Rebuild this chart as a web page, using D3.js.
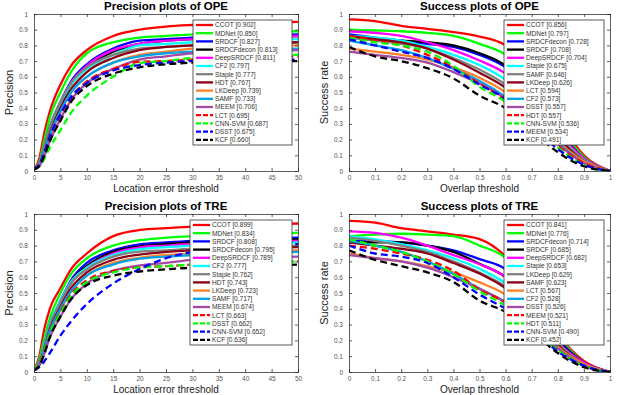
<!DOCTYPE html>
<html>
<head>
<meta charset="utf-8">
<script src="https://cdn.jsdelivr.net/npm/d3@7"></script>
<style>
  body { margin: 0; background: #fff; }
  svg { display: block; font-family: "Liberation Sans", Arial, sans-serif; }
  .tick text { fill: #555; font-size: 6.5px; }
  .domain, .tick line { stroke: #333; stroke-width: 0.8; }
</style>
</head>
<body>
<svg id="chart" width="621" height="395"></svg>
<script>
// thresholds
const precX = [0, 1, 2, 3, 5, 7, 10, 15, 20, 25, 30, 40, 50];
const succX = [0, 0.1, 0.2, 0.3, 0.4, 0.5, 0.6, 0.7, 0.8, 0.9, 1];
const precTicks = [0, 5, 10, 15, 20, 25, 30, 35, 40, 45, 50];
const succTicks = [0, 0.1, 0.2, 0.3, 0.4, 0.5, 0.6, 0.7, 0.8, 0.9, 1];
const yTicks = [0, 0.1, 0.2, 0.3, 0.4, 0.5, 0.6, 0.7, 0.8, 0.9, 1];

// precision OPE
const precOpeNames = ["CCOT", "MDNet", "SRDCF", "SRDCFdecon", "DeepSRDCF", "CF2", "Staple", "HDT", "LKDeep", "SAMF", "MEEM", "LCT", "CNN-SVM", "DSST", "KCF"];
const precOpeScores = ["0.902", "0.850", "0.827", "0.813", "0.811", "0.797", "0.777", "0.767", "0.739", "0.733", "0.706", "0.695", "0.687", "0.675", "0.660"];
const precOpeValues = [
  [0.01, 0.08, 0.25, 0.38, 0.55, 0.67, 0.77, 0.86, 0.90, 0.92, 0.93, 0.94, 0.95],
  [0.01, 0.06, 0.20, 0.34, 0.50, 0.63, 0.75, 0.82, 0.85, 0.86, 0.87, 0.88, 0.89],
  [0.01, 0.05, 0.16, 0.28, 0.44, 0.57, 0.68, 0.78, 0.83, 0.84, 0.85, 0.86, 0.87],
  [0.01, 0.05, 0.15, 0.27, 0.42, 0.55, 0.66, 0.76, 0.81, 0.83, 0.84, 0.85, 0.86],
  [0.01, 0.05, 0.15, 0.27, 0.43, 0.56, 0.67, 0.77, 0.81, 0.83, 0.84, 0.85, 0.86],
  [0.01, 0.05, 0.15, 0.27, 0.43, 0.55, 0.65, 0.74, 0.80, 0.81, 0.82, 0.83, 0.84],
  [0.01, 0.05, 0.16, 0.28, 0.44, 0.56, 0.66, 0.74, 0.78, 0.79, 0.80, 0.81, 0.82],
  [0.01, 0.04, 0.13, 0.24, 0.40, 0.52, 0.63, 0.72, 0.77, 0.79, 0.80, 0.81, 0.82],
  [0.01, 0.04, 0.12, 0.22, 0.37, 0.50, 0.60, 0.69, 0.74, 0.76, 0.78, 0.79, 0.80],
  [0.01, 0.04, 0.13, 0.23, 0.38, 0.50, 0.60, 0.69, 0.73, 0.75, 0.76, 0.77, 0.78],
  [0.01, 0.03, 0.10, 0.19, 0.33, 0.45, 0.56, 0.65, 0.71, 0.73, 0.75, 0.76, 0.77],
  [0.01, 0.04, 0.12, 0.22, 0.36, 0.47, 0.57, 0.65, 0.695, 0.70, 0.71, 0.72, 0.73],
  [0.01, 0.03, 0.08, 0.15, 0.26, 0.37, 0.48, 0.60, 0.687, 0.70, 0.72, 0.73, 0.74],
  [0.01, 0.04, 0.12, 0.22, 0.36, 0.47, 0.56, 0.64, 0.675, 0.69, 0.70, 0.70, 0.71],
  [0.01, 0.03, 0.10, 0.19, 0.32, 0.44, 0.54, 0.62, 0.66, 0.68, 0.69, 0.70, 0.70]
];

// success OPE
const succOpeNames = ["CCOT", "MDNet", "SRDCFdecon", "SRDCF", "DeepSRDCF", "Staple", "SAMF", "LKDeep", "LCT", "CF2", "DSST", "HDT", "CNN-SVM", "MEEM", "KCF"];
const succOpeScores = ["0.856", "0.797", "0.728", "0.708", "0.704", "0.675", "0.646", "0.626", "0.594", "0.573", "0.557", "0.557", "0.536", "0.534", "0.491"];
const succOpeValues = [
  [0.966, 0.955, 0.925, 0.905, 0.885, 0.856, 0.80, 0.62, 0.33, 0.10, 0],
  [0.90, 0.895, 0.89, 0.88, 0.86, 0.81, 0.74, 0.58, 0.30, 0.09, 0],
  [0.87, 0.85, 0.83, 0.81, 0.79, 0.74, 0.66, 0.50, 0.27, 0.08, 0],
  [0.85, 0.84, 0.83, 0.82, 0.80, 0.75, 0.67, 0.48, 0.26, 0.08, 0],
  [0.89, 0.88, 0.86, 0.82, 0.77, 0.704, 0.62, 0.46, 0.25, 0.08, 0],
  [0.86, 0.85, 0.83, 0.79, 0.74, 0.675, 0.58, 0.42, 0.23, 0.07, 0],
  [0.85, 0.83, 0.81, 0.78, 0.72, 0.646, 0.55, 0.40, 0.22, 0.07, 0],
  [0.86, 0.84, 0.82, 0.78, 0.71, 0.626, 0.53, 0.38, 0.21, 0.06, 0],
  [0.78, 0.76, 0.74, 0.71, 0.66, 0.594, 0.50, 0.35, 0.19, 0.06, 0],
  [0.83, 0.80, 0.77, 0.72, 0.65, 0.573, 0.47, 0.32, 0.18, 0.05, 0],
  [0.76, 0.74, 0.72, 0.69, 0.63, 0.557, 0.46, 0.31, 0.17, 0.05, 0],
  [0.86, 0.83, 0.80, 0.74, 0.66, 0.557, 0.45, 0.30, 0.16, 0.05, 0],
  [0.85, 0.82, 0.80, 0.76, 0.67, 0.536, 0.44, 0.29, 0.15, 0.04, 0],
  [0.84, 0.80, 0.76, 0.72, 0.65, 0.55, 0.46, 0.30, 0.14, 0.04, 0],
  [0.79, 0.73, 0.70, 0.655, 0.59, 0.48, 0.40, 0.26, 0.12, 0.03, 0]
];

// precision TRE
const precTreNames = ["CCOT", "MDNet", "SRDCF", "SRDCFdecon", "DeepSRDCF", "CF2", "Staple", "HDT", "LKDeep", "SAMF", "MEEM", "LCT", "DSST", "CNN-SVM", "KCF"];
const precTreScores = ["0.899", "0.834", "0.808", "0.795", "0.789", "0.777", "0.762", "0.743", "0.723", "0.717", "0.674", "0.663", "0.662", "0.652", "0.636"];
const precTreValues = [
  [0.01, 0.10, 0.28, 0.40, 0.53, 0.65, 0.75, 0.86, 0.899, 0.91, 0.92, 0.93, 0.94],
  [0.01, 0.08, 0.22, 0.34, 0.50, 0.62, 0.72, 0.80, 0.834, 0.85, 0.86, 0.87, 0.88],
  [0.01, 0.06, 0.18, 0.30, 0.45, 0.58, 0.69, 0.77, 0.808, 0.82, 0.83, 0.84, 0.85],
  [0.01, 0.06, 0.17, 0.29, 0.44, 0.57, 0.67, 0.76, 0.795, 0.81, 0.82, 0.83, 0.84],
  [0.01, 0.06, 0.17, 0.29, 0.44, 0.56, 0.66, 0.75, 0.789, 0.80, 0.81, 0.82, 0.83],
  [0.01, 0.06, 0.18, 0.30, 0.45, 0.57, 0.66, 0.74, 0.777, 0.79, 0.80, 0.81, 0.82],
  [0.01, 0.06, 0.17, 0.29, 0.44, 0.56, 0.65, 0.73, 0.762, 0.77, 0.78, 0.79, 0.80],
  [0.01, 0.05, 0.15, 0.27, 0.41, 0.53, 0.63, 0.71, 0.743, 0.76, 0.77, 0.78, 0.79],
  [0.01, 0.05, 0.14, 0.25, 0.39, 0.51, 0.61, 0.69, 0.723, 0.74, 0.75, 0.76, 0.77],
  [0.01, 0.05, 0.15, 0.26, 0.40, 0.51, 0.61, 0.68, 0.717, 0.73, 0.74, 0.75, 0.76],
  [0.01, 0.04, 0.12, 0.22, 0.35, 0.46, 0.56, 0.64, 0.674, 0.69, 0.71, 0.72, 0.73],
  [0.01, 0.05, 0.14, 0.24, 0.38, 0.49, 0.58, 0.64, 0.663, 0.67, 0.68, 0.69, 0.70],
  [0.01, 0.05, 0.13, 0.24, 0.37, 0.48, 0.57, 0.63, 0.662, 0.67, 0.68, 0.69, 0.70],
  [0.01, 0.03, 0.07, 0.12, 0.23, 0.32, 0.43, 0.56, 0.652, 0.72, 0.76, 0.79, 0.81],
  [0.01, 0.04, 0.12, 0.22, 0.35, 0.46, 0.55, 0.61, 0.636, 0.65, 0.66, 0.67, 0.68]
];

// success TRE
const succTreNames = ["CCOT", "MDNet", "SRDCFdecon", "SRDCF", "DeepSRDCF", "Staple", "LKDeep", "SAMF", "LCT", "CF2", "DSST", "MEEM", "HDT", "CNN-SVM", "KCF"];
const succTreScores = ["0.841", "0.776", "0.714", "0.685", "0.682", "0.653", "0.629", "0.623", "0.567", "0.528", "0.526", "0.521", "0.511", "0.490", "0.452"];
const succTreValues = [
  [0.956, 0.945, 0.91, 0.89, 0.87, 0.841, 0.73, 0.50, 0.24, 0.07, 0],
  [0.86, 0.87, 0.875, 0.87, 0.86, 0.80, 0.72, 0.48, 0.23, 0.06, 0],
  [0.83, 0.83, 0.82, 0.80, 0.77, 0.714, 0.65, 0.45, 0.21, 0.06, 0],
  [0.82, 0.82, 0.82, 0.80, 0.76, 0.685, 0.60, 0.43, 0.20, 0.06, 0],
  [0.89, 0.88, 0.85, 0.80, 0.74, 0.682, 0.60, 0.42, 0.19, 0.06, 0],
  [0.86, 0.84, 0.81, 0.77, 0.72, 0.653, 0.56, 0.40, 0.18, 0.05, 0],
  [0.85, 0.83, 0.80, 0.76, 0.70, 0.629, 0.54, 0.39, 0.18, 0.05, 0],
  [0.82, 0.80, 0.78, 0.75, 0.69, 0.623, 0.53, 0.38, 0.17, 0.05, 0],
  [0.75, 0.72, 0.70, 0.67, 0.63, 0.567, 0.49, 0.35, 0.16, 0.05, 0],
  [0.83, 0.80, 0.76, 0.70, 0.62, 0.528, 0.44, 0.31, 0.15, 0.04, 0],
  [0.74, 0.72, 0.70, 0.66, 0.60, 0.526, 0.44, 0.31, 0.15, 0.04, 0],
  [0.80, 0.78, 0.75, 0.71, 0.64, 0.521, 0.44, 0.30, 0.14, 0.04, 0],
  [0.84, 0.80, 0.76, 0.70, 0.62, 0.511, 0.42, 0.29, 0.14, 0.04, 0],
  [0.80, 0.75, 0.73, 0.69, 0.60, 0.49, 0.40, 0.28, 0.13, 0.04, 0],
  [0.77, 0.71, 0.67, 0.63, 0.57, 0.452, 0.38, 0.26, 0.12, 0.03, 0]
];

// OTB style: color and dash by rank
const rankColors = ["#ff0000", "#00ff00", "#0000ff", "#000000", "#ff00ff", "#00ffff", "#808080", "#880015", "#ff7f27", "#00a2e8", "#a349a4", "#ff0000", "#00ff00", "#0000ff", "#000000"];

const svg = d3.select("#chart");

const panels = [
  { title: "Precision plots of OPE", xLabel: "Location error threshold", yLabel: "Precision",
    xs: precX, ticks: precTicks, xMax: 50, names: precOpeNames, scores: precOpeScores, values: precOpeValues,
    x0: 34, x1: 298, y0: 14, y1: 171, legW: 99 },
  { title: "Success plots of OPE", xLabel: "Overlap threshold", yLabel: "Success rate",
    xs: succX, ticks: succTicks, xMax: 1, names: succOpeNames, scores: succOpeScores, values: succOpeValues,
    x0: 349, x1: 610, y0: 14, y1: 171, legW: 100 },
  { title: "Precision plots of TRE", xLabel: "Location error threshold", yLabel: "Precision",
    xs: precX, ticks: precTicks, xMax: 50, names: precTreNames, scores: precTreScores, values: precTreValues,
    x0: 34, x1: 298, y0: 214, y1: 372, legW: 102 },
  { title: "Success plots of TRE", xLabel: "Overlap threshold", yLabel: "Success rate",
    xs: succX, ticks: succTicks, xMax: 1, names: succTreNames, scores: succTreScores, values: succTreValues,
    x0: 349, x1: 610, y0: 214, y1: 372, legW: 100 }
];

const fmt = d3.format("~g");

panels.forEach((p, pi) => {
  const x = d3.scaleLinear().domain([0, p.xMax]).range([p.x0, p.x1]);
  const y = d3.scaleLinear().domain([0, 1]).range([p.y1, p.y0]);
  const g = svg.append("g");

  g.append("rect")
    .attr("x", p.x0).attr("y", p.y0)
    .attr("width", p.x1 - p.x0).attr("height", p.y1 - p.y0)
    .attr("fill", "#fff");

  g.append("clipPath").attr("id", "clip" + pi)
    .append("rect")
    .attr("x", p.x0).attr("y", p.y0)
    .attr("width", p.x1 - p.x0).attr("height", p.y1 - p.y0);

  const line = d3.line()
    .x((d, i) => x(p.xs[i]))
    .y(d => y(d))
    .curve(d3.curveMonotoneX);

  g.append("g").attr("clip-path", `url(#clip${pi})`)
    .selectAll("path")
    .data(p.values)
    .join("path")
    .attr("d", line)
    .attr("fill", "none")
    .attr("stroke", (d, i) => rankColors[i])
    .attr("stroke-width", 2.3)
    .attr("stroke-dasharray", (d, i) => i >= 11 ? "7,4" : null);

  // axes with inward ticks on all sides
  g.append("g").attr("transform", `translate(0,${p.y1})`)
    .call(d3.axisBottom(x).tickValues(p.ticks).tickSize(-3).tickPadding(4).tickFormat(fmt));
  g.append("g").attr("transform", `translate(0,${p.y0})`)
    .call(d3.axisTop(x).tickValues(p.ticks).tickSize(-3).tickFormat(""));
  g.append("g").attr("transform", `translate(${p.x0},0)`)
    .call(d3.axisLeft(y).tickValues(yTicks).tickSize(-3).tickPadding(6).tickFormat(fmt));
  g.append("g").attr("transform", `translate(${p.x1},0)`)
    .call(d3.axisRight(y).tickValues(yTicks).tickSize(-3).tickFormat(""));
  g.selectAll(".domain").attr("stroke", "#333");

  const cx = (p.x0 + p.x1) / 2;
  g.append("text")
    .attr("x", cx).attr("y", p.y0 - 4)
    .attr("text-anchor", "middle")
    .style("font-size", "11.5px").style("font-weight", "bold")
    .text(p.title);

  g.append("text")
    .attr("x", cx).attr("y", p.y1 + 20.5)
    .attr("text-anchor", "middle")
    .style("font-size", "10px").attr("fill", "#222")
    .text(p.xLabel);

  g.append("text")
    .attr("transform", `translate(${p.x0 - 21},${(p.y0 + p.y1) / 2}) rotate(-90)`)
    .attr("text-anchor", "middle")
    .style("font-size", "11px").attr("fill", "#222")
    .text(p.yLabel);

  // legend
  const rowH = 8.2;
  const lx = p.x1 - p.legW - 6, ly = p.y0 + 6;
  const leg = g.append("g").attr("transform", `translate(${lx},${ly})`);
  leg.append("rect")
    .attr("width", p.legW).attr("height", rowH * p.names.length + 2)
    .attr("fill", "#fff").attr("stroke", "#333").attr("stroke-width", 0.8);
  leg.selectAll("g.item")
    .data(p.names)
    .join("g")
    .attr("class", "item")
    .attr("transform", (d, i) => `translate(0,${5 + i * rowH})`)
    .each(function(d, i) {
      const it = d3.select(this);
      it.append("line")
        .attr("x1", 3).attr("x2", 20)
        .attr("stroke", rankColors[i]).attr("stroke-width", 2.3)
        .attr("stroke-dasharray", i >= 11 ? "5,2" : null);
      it.append("text")
        .attr("x", 22).attr("y", 2.3)
        .style("font-size", "6.6px").attr("fill", "#333")
        .text(`${d} [${p.scores[i]}]`);
    });
});
</script>
</body>
</html>
